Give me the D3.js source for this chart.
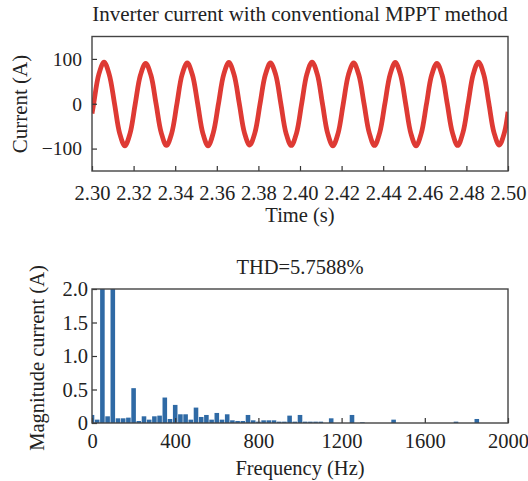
<!DOCTYPE html>
<html>
<head>
<meta charset="utf-8">
<script src="https://cdn.jsdelivr.net/npm/d3@7"></script>
<style>
  body { margin: 0; background: #fff; }
  svg text { font-family: "Liberation Serif", "Times New Roman", serif; fill: #222; }
  .axis path { display: none; }
  .axis line { stroke: #333; stroke-width: 1.2; }
</style>
</head>
<body>
<svg width="528" height="481"></svg>
<script>
// inverter current (s, A)
var currentTime = [
  2.3000,
  2.3008, 2.3033, 2.3058, 2.3083, 2.3108, 2.3133, 2.3158, 2.3183,
  2.3208, 2.3233, 2.3258, 2.3283, 2.3308, 2.3333, 2.3358, 2.3383,
  2.3408, 2.3433, 2.3458, 2.3483, 2.3508, 2.3533, 2.3558, 2.3583,
  2.3608, 2.3633, 2.3658, 2.3683, 2.3708, 2.3733, 2.3758, 2.3783,
  2.3808, 2.3833, 2.3858, 2.3883, 2.3908, 2.3933, 2.3958, 2.3983,
  2.4008, 2.4033, 2.4058, 2.4083, 2.4108, 2.4133, 2.4158, 2.4183,
  2.4208, 2.4233, 2.4258, 2.4283, 2.4308, 2.4333, 2.4358, 2.4383,
  2.4408, 2.4433, 2.4458, 2.4483, 2.4508, 2.4533, 2.4558, 2.4583,
  2.4608, 2.4633, 2.4658, 2.4683, 2.4708, 2.4733, 2.4758, 2.4783,
  2.4808, 2.4833, 2.4858, 2.4883, 2.4908, 2.4933, 2.4958, 2.4983,
  2.5000
];
var currentValue = [
  -22,
  0, 66, 93, 65, 1, -66, -94, -66,
  0, 64, 90, 64, 0, -65, -93, -66,
  -1, 65, 91, 64, 0, -66, -94, -65,
  0, 65, 92, 65, 1, -65, -92, -65,
  0, 64, 91, 65, 0, -66, -93, -66,
  0, 66, 93, 66, 0, -66, -94, -66,
  0, 65, 91, 64, 0, -65, -93, -65,
  0, 65, 92, 65, 0, -66, -94, -66,
  -1, 64, 90, 64, 0, -65, -93, -65,
  0, 66, 93, 66, 1, -65, -92, -64,
  -18
];
var timeTicks = [2.30, 2.32, 2.34, 2.36, 2.38, 2.40, 2.42, 2.44, 2.46, 2.48, 2.50];
var currentTicks = [-100, 0, 100];

// FFT spectrum (Hz, A)
var harmFreq = [0, 25, 50, 75, 100, 125, 150, 175, 200, 225, 250, 275, 300, 325, 350, 375,
  400, 425, 450, 475, 500, 525, 550, 575, 600, 625, 650, 675, 700, 725, 750, 775,
  800, 825, 850, 875, 900, 925, 950, 975, 1000, 1025, 1050, 1075, 1100, 1150, 1250,
  1300, 1450, 1750, 1850];
var harmMag = [0.12, 0.05, 92, 0.1, 2.6, 0.07, 0.07, 0.08, 0.52, 0.03, 0.1, 0.05, 0.1, 0.11, 0.38, 0.06,
  0.27, 0.13, 0.13, 0.05, 0.23, 0.09, 0.12, 0.05, 0.15, 0.05, 0.13, 0.04, 0.03, 0.03, 0.12, 0.04,
  0.02, 0.04, 0.04, 0.04, 0.02, 0.02, 0.11, 0.02, 0.12, 0.02, 0.02, 0.02, 0.02, 0.07, 0.12,
  0.01, 0.05, 0.02, 0.06];
var freqTicks = [0, 400, 800, 1200, 1600, 2000];
var magTicks = [0, 0.5, 1.0, 1.5, 2.0];

var svg = d3.select("svg");

// ---- top plot ----
var x1 = d3.scaleLinear().domain([2.30, 2.50]).range([92, 508]);
var y1 = d3.scaleLinear().domain([-150, 150]).range([171, 36.5]);

svg.append("clipPath").attr("id", "clip1")
  .append("rect").attr("x", 92).attr("y", 36.5).attr("width", 416).attr("height", 134.5);

svg.append("path")
    .datum(currentTime.map(function(t, i) { return [t, currentValue[i]]; }))
    .attr("clip-path", "url(#clip1)")
    .attr("fill", "none")
    .attr("stroke", "#de3a34")
    .attr("stroke-width", 4.8)
    .attr("stroke-linejoin", "round")
    .attr("d", d3.line()
      .x(function(d) { return x1(d[0]); })
      .y(function(d) { return y1(d[1]); })
      .curve(d3.curveCatmullRom));

svg.append("g").attr("class", "axis")
    .attr("transform", "translate(0,171)")
    .call(d3.axisBottom(x1).tickValues(timeTicks).tickFormat(d3.format(".2f"))
      .tickSizeInner(-5).tickSizeOuter(0).tickPadding(14))
    .selectAll("text").style("font-size", "20.5px");

svg.append("g").attr("class", "axis")
    .attr("transform", "translate(92,0)")
    .call(d3.axisLeft(y1).tickValues(currentTicks).tickFormat(function(d) { return d < 0 ? "\u2212" + (-d) : d; })
      .tickSizeInner(-5).tickSizeOuter(0).tickPadding(10))
    .selectAll("text").style("font-size", "19.5px");

svg.append("rect")
    .attr("x", 92).attr("y", 36.5).attr("width", 416).attr("height", 134.5)
    .attr("fill", "none").attr("stroke", "#444").attr("stroke-width", 1.4);

svg.append("text").attr("x", 300).attr("y", 21).attr("text-anchor", "middle")
    .style("font-size", "21px").text("Inverter current with conventional MPPT method");
svg.append("text").attr("x", 300).attr("y", 222).attr("text-anchor", "middle")
    .style("font-size", "20.5px").text("Time (s)");
svg.append("text").attr("transform", "translate(27,104) rotate(-90)").attr("text-anchor", "middle")
    .style("font-size", "21px").text("Current (A)");

// ---- bottom plot ----
var x2 = d3.scaleLinear().domain([0, 2000]).range([92, 508]);
var y2 = d3.scaleLinear().domain([0, 2]).range([423, 289]);
var barW = x2(22) - x2(0);

svg.append("clipPath").attr("id", "clip2")
  .append("rect").attr("x", 92).attr("y", 289).attr("width", 416).attr("height", 134);

svg.append("g").attr("clip-path", "url(#clip2)")
  .selectAll("rect")
  .data(harmFreq.map(function(f, i) { return {f: f, m: harmMag[i]}; }))
  .enter().append("rect")
    .attr("x", function(d) { return x2(d.f) - barW / 2; })
    .attr("width", barW)
    .attr("y", function(d) { return y2(Math.min(d.m, 2.2)); })
    .attr("height", function(d) { return y2(0) - y2(Math.min(d.m, 2.2)); })
    .attr("fill", "#2f6aa5");

svg.append("g").attr("class", "axis")
    .attr("transform", "translate(0,423)")
    .call(d3.axisBottom(x2).tickValues(freqTicks).tickFormat(d3.format("d"))
      .tickSizeInner(-5).tickSizeOuter(0).tickPadding(10))
    .selectAll("text").style("font-size", "20.5px");

svg.append("g").attr("class", "axis")
    .attr("transform", "translate(92,0)")
    .call(d3.axisLeft(y2).tickValues(magTicks).tickFormat(function(d) { return d === 0 ? "0" : d3.format(".1f")(d); })
      .tickSizeInner(-5).tickSizeOuter(0).tickPadding(4))
    .selectAll("text").style("font-size", "20.5px");

svg.append("rect")
    .attr("x", 92).attr("y", 289).attr("width", 416).attr("height", 134)
    .attr("fill", "none").attr("stroke", "#444").attr("stroke-width", 1.4);

svg.append("text").attr("x", 300).attr("y", 274).attr("text-anchor", "middle")
    .style("font-size", "20.5px").text("THD=5.7588%");
svg.append("text").attr("x", 300).attr("y", 475).attr("text-anchor", "middle")
    .style("font-size", "20.5px").text("Frequency (Hz)");
svg.append("text").attr("transform", "translate(44,358) rotate(-90)").attr("text-anchor", "middle")
    .style("font-size", "20.5px").text("Magnitude current (A)");
</script>
</body>
</html>
